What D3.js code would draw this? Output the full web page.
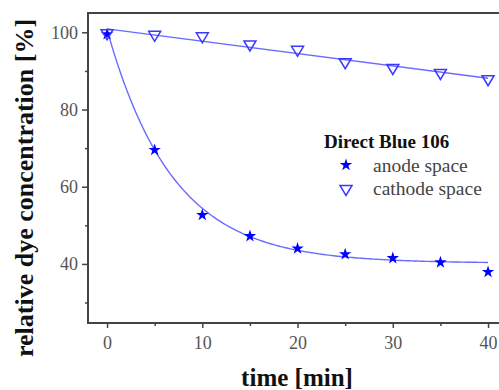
<!DOCTYPE html>
<html>
<head>
<meta charset="utf-8">
<script src="https://cdn.jsdelivr.net/npm/d3@7"></script>
<style>
  html, body { margin: 0; padding: 0; background: #fff; }
  svg { display: block; }
</style>
</head>
<body>
<svg id="chart" width="499" height="390"></svg>
<script>
// Sampling times [min]
const times = [0, 5, 10, 15, 20, 25, 30, 35, 40];
// Relative dye concentration [%] in each compartment
const anode = [99.5, 69.5, 52.7, 47.2, 44.0, 42.5, 41.5, 40.4, 37.9];
const cathode = [99.5, 99.1, 98.7, 96.6, 95.2, 92.0, 90.5, 89.2, 87.6];
// Axis ticks
const xTicks = [0, 10, 20, 30, 40];
const xMinor = [5, 15, 25, 35];
const yTicks = [40, 60, 80, 100];
const yMinor = [30, 50, 70, 90];
// Fit parameters: exponential decay for anode, straight line for cathode
const anodeFit = { y0: 40.2, a: 60.5, tau: 6.9 };
const cathodeFit = { b: 100.9, k: -0.32 };

const serif = "Liberation Serif";
const svg = d3.select("#chart");
const m = { left: 88, top: 13, bottom: 323 };
const x = d3.scaleLinear().domain([-2, 42]).range([m.left, m.left + 44 * 9.525]);
const y = d3.scaleLinear().domain([24.7, 105]).range([m.bottom, m.top]);

const blue = "#0000ff";
const lineBlue = "#6b6bff";
const frame = "#444";

// Fit curves
const fitX = d3.range(0, 40.001, 0.25);
const line = d3.line().x(d => x(d[0])).y(d => y(d[1]));
svg.append("path")
  .datum(fitX.map(t => [t, anodeFit.y0 + anodeFit.a * Math.exp(-t / anodeFit.tau)]))
  .attr("d", line).attr("fill", "none").attr("stroke", lineBlue).attr("stroke-width", 1.4);
svg.append("path")
  .datum([0, 40].map(t => [t, cathodeFit.b + cathodeFit.k * t]))
  .attr("d", line).attr("fill", "none").attr("stroke", lineBlue).attr("stroke-width", 1.4);

// Markers
const star = d3.symbol().type(d3.symbolStar).size(48);
const tri = "M-6,-4.5 L6,-4.5 L0,5.5 Z";

svg.append("g").selectAll("path").data(times.map((t, i) => [t, anode[i]])).join("path")
  .attr("d", star).attr("fill", blue)
  .attr("transform", d => `translate(${x(d[0])},${y(d[1])})`);
svg.append("g").selectAll("path").data(times.map((t, i) => [t, cathode[i]])).join("path")
  .attr("d", tri).attr("fill", "none").attr("stroke", "#3a3aff").attr("stroke-width", 1.5)
  .attr("transform", d => `translate(${x(d[0])},${y(d[1])})`);

// Frame (left, top, bottom; right side runs past the canvas)
svg.append("path")
  .attr("d", `M${x.range()[1]},${m.top}H${m.left}V${m.bottom}H${x.range()[1]}`)
  .attr("fill", "none").attr("stroke", frame).attr("stroke-width", 2);

// Axes
const xAxis = d3.axisBottom(x).tickValues(xTicks).tickSize(5).tickPadding(8).tickFormat(d3.format("d"));
const xAxisMinor = d3.axisBottom(x).tickValues(xMinor).tickSize(3).tickFormat("");
const yAxis = d3.axisLeft(y).tickValues(yTicks).tickSize(6).tickPadding(4).tickFormat(d3.format("d"));
const yAxisMinor = d3.axisLeft(y).tickValues(yMinor).tickSize(3).tickFormat("");

function style(g) {
  g.select(".domain").remove();
  g.selectAll("line").attr("stroke", frame).attr("stroke-width", 1.5);
  g.selectAll("text").attr("fill", "#555").attr("font-family", serif).attr("font-size", 18);
}
svg.append("g").attr("transform", `translate(0,${m.bottom})`).call(xAxis).call(style);
svg.append("g").attr("transform", `translate(0,${m.bottom})`).call(xAxisMinor).call(style);
svg.append("g").attr("transform", `translate(${m.left},0)`).call(yAxis).call(style);
svg.append("g").attr("transform", `translate(${m.left},0)`).call(yAxisMinor).call(style);

// Axis titles
svg.append("text")
  .attr("x", 297).attr("y", 386)
  .attr("text-anchor", "middle").attr("font-family", serif).attr("font-weight", "bold").attr("font-size", 25)
  .attr("fill", "#111").text("time [min]");
svg.append("text")
  .attr("transform", "translate(33,188) rotate(-90)")
  .attr("text-anchor", "middle").attr("font-family", serif).attr("font-weight", "bold").attr("font-size", 26)
  .attr("fill", "#111").text("relative dye concentration [%]");

// Legend
const lg = svg.append("g");
lg.append("text").attr("x", 324).attr("y", 148).attr("font-family", serif).attr("font-weight", "bold")
  .attr("font-size", 19).attr("fill", "#111").text("Direct Blue 106");
lg.append("path").attr("d", star).attr("fill", blue).attr("transform", "translate(346,165)");
lg.append("text").attr("x", 373).attr("y", 172).attr("font-family", serif)
  .attr("font-size", 19.5).attr("fill", "#444").text("anode space");
lg.append("path").attr("d", tri).attr("fill", "none").attr("stroke", "#3a3aff").attr("stroke-width", 1.5)
  .attr("transform", "translate(346,190)");
lg.append("text").attr("x", 373).attr("y", 195).attr("font-family", serif)
  .attr("font-size", 19.5).attr("fill", "#444").text("cathode space");
</script>
</body>
</html>
